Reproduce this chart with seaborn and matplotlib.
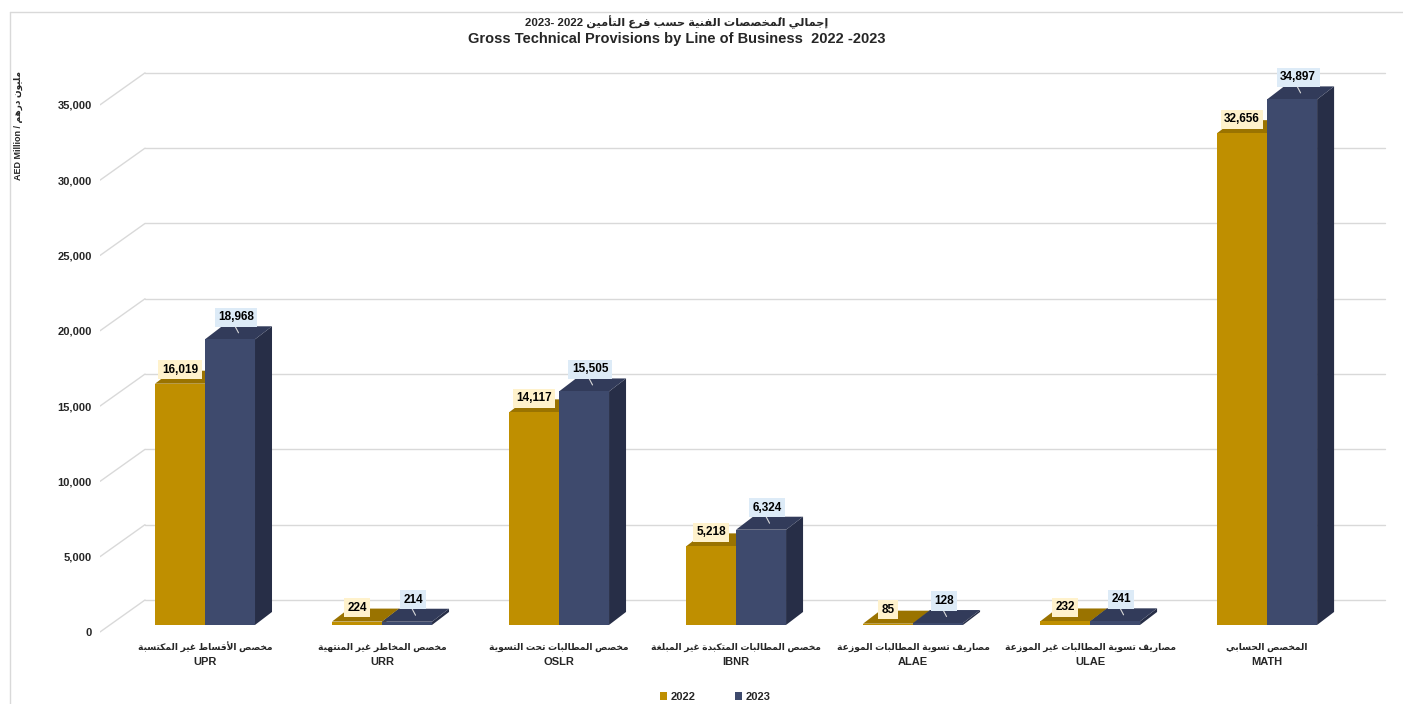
import pandas as pd
import matplotlib
matplotlib.use("Agg")
import matplotlib.pyplot as plt
from matplotlib.patches import Polygon, Patch
from matplotlib.lines import Line2D
import seaborn as sns

# -----------------------------
# DATA
# -----------------------------
codes = ["UPR", "URR", "OSLR", "IBNR", "ALAE", "ULAE", "MATH"]
names_ar = [
    "مخصص الأقساط غير المكتسبة",
    "مخصص المخاطر غير المنتهية",
    "مخصص المطالبات تحت التسوية",
    "مخصص المطالبات المتكبدة غير المبلغة",
    "مصاريف تسوية المطالبات الموزعة",
    "مصاريف تسوية المطالبات غير الموزعة",
    "المخصص الحسابي",
]
years = ["2022", "2023"]
values_2022 = [16019, 224, 14117, 5218, 85, 232, 32656]
values_2023 = [18968, 214, 15505, 6324, 128, 241, 34897]
y_ticks = [0, 5000, 10000, 15000, 20000, 25000, 30000, 35000]

title_ar = "إجمالي المُخصصات الفنية حسب فرع التأمين 2022 -2023"
title_en = "Gross Technical Provisions by Line of Business  2022 -2023"
ylabel_en = "AED Million / "
ylabel_ar = "مليون درهم"

front_cols = ["#BF8F00", "#3E4A6D"]
top_cols = ["#9A7300", "#323B5A"]
side_cols = ["#7A5B00", "#272E47"]
label_bg = ["#FFF2CC", "#DDEBF7"]

# -----------------------------
# ARABIC SHAPING (no reshaper lib available)
# -----------------------------
AR_LETTERS = "ءآأؤإئابةتثجحخدذرزسشصضطظعغفقكلمنهوىي"
AR_NFORMS = [1, 2, 2, 2, 2, 4, 2, 4, 2, 4, 4, 4, 4, 4, 2, 2, 2, 2,
             4, 4, 4, 4, 4, 4, 4, 4, 4, 4, 4, 4, 4, 4, 4, 2, 2, 4]
AR_FORMS = {}
_code = 0xFE80
for _ch, _n in zip(AR_LETTERS, AR_NFORMS):
    AR_FORMS[_ch] = [chr(_code + k) for k in range(_n)]
    _code += _n
LAM_ALEF = {"آ": 0xFEF5, "أ": 0xFEF7, "إ": 0xFEF9, "ا": 0xFEFB}


def is_mark(c):
    return "\u064B" <= c <= "\u0652"


def ar(text):
    chars = list(text)
    n = len(chars)

    def prev_letter(k):
        k -= 1
        while k >= 0 and is_mark(chars[k]):
            k -= 1
        return chars[k] if k >= 0 else None

    def next_idx(k):
        k += 1
        while k < n and is_mark(chars[k]):
            k += 1
        return k if k < n else None

    out = []
    i = 0
    while i < n:
        c = chars[i]
        if c not in AR_FORMS:
            out.append(c)
            i += 1
            continue
        p = prev_letter(i)
        jp = p in AR_FORMS and len(AR_FORMS[p]) == 4 and len(AR_FORMS[c]) > 1
        j = next_idx(i)
        nx = chars[j] if j is not None else None
        if c == "ل" and nx in LAM_ALEF:
            g = chr(LAM_ALEF[nx] + (1 if jp else 0)) + "".join(chars[i + 1:j])
            k = j + 1
            while k < n and is_mark(chars[k]):
                g += chars[k]
                k += 1
            out.append(g)
            i = k
            continue
        jn = nx in AR_FORMS and len(AR_FORMS[c]) == 4 and len(AR_FORMS[nx]) > 1
        forms = AR_FORMS[c]
        if jp and jn:
            g = forms[3]
        elif jp:
            g = forms[1]
        elif jn:
            g = forms[2]
        else:
            g = forms[0]
        k = i + 1
        while k < n and is_mark(chars[k]):
            g += chars[k]
            k += 1
        out.append(g)
        i = k
    out = out[::-1]
    res, run = [], []
    for cl in out:
        if cl.isascii() and cl.isalnum():
            run.append(cl)
        else:
            res.extend(run[::-1])
            run = []
            res.append(cl)
    res.extend(run[::-1])
    return "".join(res)


# -----------------------------
# FIGURE
# -----------------------------
sns.set_theme(style="white")
plt.rcParams["font.family"] = ["Liberation Sans", "DejaVu Sans"]

df = pd.DataFrame({
    "code": codes * 2,
    "year": [years[0]] * len(codes) + [years[1]] * len(codes),
    "value": values_2022 + values_2023,
})

fig = plt.figure(figsize=(14.03, 7.04), dpi=100)
ax = fig.add_axes([0.0713, 0.0973, 0.9209, 0.8172])

sns.barplot(data=df, x="code", y="value", hue="year", palette=front_cols,
            saturation=1, width=0.565, legend=False, ax=ax, linewidth=0)

xlim = (-0.593, 6.706)
ylim = (-700, 37500)
ax.set_xlim(*xlim)
ax.set_ylim(*ylim)

# pixel -> data conversions for the fake 3D depth
px_x = 177.0
px_y = 75.3 / 5000
dx = 17 / px_x
dy = 13 / px_y
front_off = -7 / px_y
wall_dx = 45 / px_x
wall_dy = 32 / px_y
grid_end = (1385 - 205) / px_x

# back wall + left wall gridlines
for v in y_ticks:
    yf = v + front_off
    yb = yf + wall_dy
    ax.plot([xlim[0] + wall_dx, grid_end], [yb, yb], color="#D9D9D9", lw=1, zorder=1)
    ax.plot([xlim[0], xlim[0] + wall_dx], [yf, yb], color="#D9D9D9", lw=1, zorder=1)

# 3D faces + data labels
for k, cont in enumerate(ax.containers):
    z = 3 + 2 * k
    for bar in cont:
        bar.set_zorder(z)
        x0, w, h = bar.get_x(), bar.get_width(), bar.get_height()
        ax.add_patch(Polygon([(x0 + w, 0), (x0 + w + dx, dy), (x0 + w + dx, h + dy), (x0 + w, h)],
                             closed=True, fc=side_cols[k], ec="none", zorder=z - 0.5))
        ax.add_patch(Polygon([(x0, h), (x0 + w, h), (x0 + w + dx, h + dy), (x0 + dx, h + dy)],
                             closed=True, fc=top_cols[k], ec="none", zorder=z - 0.5))
        cx = x0 + w / 2
        if k == 0:
            lx, ly = cx, h + 14 / px_y
        else:
            lx, ly = cx + 6 / px_x, h + 22 / px_y
            ax.add_line(Line2D([lx - 2 / px_x, cx + dx / 2], [ly - 7 / px_y, h + dy / 2],
                               color="#D9D9D9", lw=0.8, zorder=9))
        ax.text(lx, ly, f"{int(h):,}", ha="center", va="center", fontsize=8.5,
                fontweight="bold", color="black", zorder=10,
                bbox=dict(boxstyle="square,pad=0.3", fc=label_bg[k], ec="none"))

# axes text
ax.set_yticks([v + front_off for v in y_ticks])
ax.set_yticklabels([f"{v:,}" for v in y_ticks], fontsize=8, fontweight="bold")
ax.set_xticks(range(len(codes)))
ax.set_xticklabels([])
ax.tick_params(axis="both", length=0)
ax.tick_params(axis="y", pad=6)
xt = ax.get_xaxis_transform()
for i, (a, c) in enumerate(zip(names_ar, codes)):
    ax.text(i, -0.020, ar(a), transform=xt, ha="center", va="center",
            fontsize=6.6, fontweight="bold", color="#262626")
    ax.text(i, -0.046, c, transform=xt, ha="center", va="center",
            fontsize=8, fontweight="bold", color="#262626")
ax.set_xlabel("")
ax.set_ylabel("")
for s in ax.spines.values():
    s.set_visible(False)
ax.patch.set_alpha(0)

fig.text(677 / 1403, 1 - 22 / 704, ar(title_ar), ha="center", va="center",
         fontsize=8.2, fontweight="bold")
fig.text(677 / 1403, 1 - 39 / 704, title_en, ha="center", va="center",
         fontsize=10.5, fontweight="bold")
fig.text(18 / 1403, 1 - 125 / 704, ylabel_en + ar(ylabel_ar), rotation=90,
         ha="center", va="center", fontsize=6.5, fontweight="bold")

handles = [Patch(facecolor=c, edgecolor="none") for c in front_cols]
fig.legend(handles, years, loc="center", bbox_to_anchor=(715 / 1403, 1 - 697 / 704),
           ncol=2, frameon=False, prop=dict(weight="bold", size=8),
           handlelength=0.7, handleheight=0.7, columnspacing=3.5, handletextpad=0.3)

# chart border
fig.add_artist(Line2D([10 / 1403, 10 / 1403], [0, 1 - 12 / 704], color="#D9D9D9", lw=1))
fig.add_artist(Line2D([10 / 1403, 1], [1 - 12 / 704, 1 - 12 / 704], color="#D9D9D9", lw=1))

fig.savefig("out.png", dpi=100)
